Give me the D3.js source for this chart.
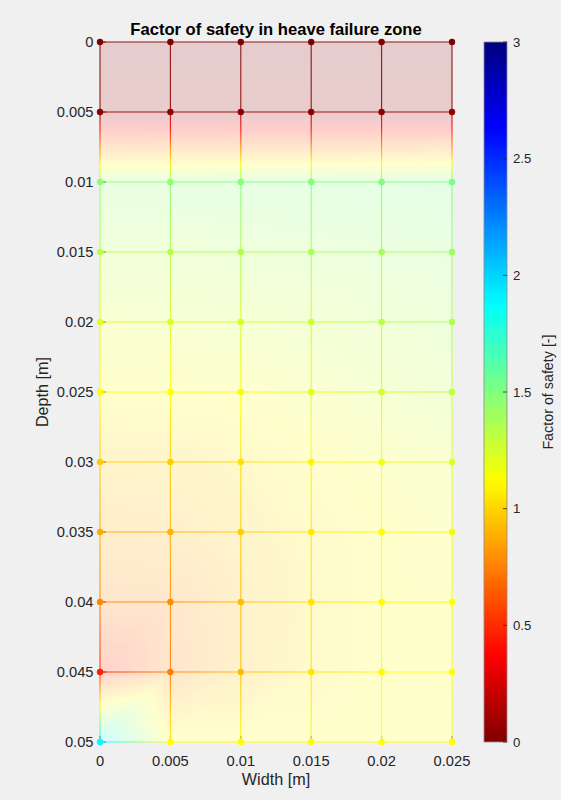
<!DOCTYPE html>
<html>
<head>
<meta charset="utf-8">
<script src="https://cdn.jsdelivr.net/npm/d3@7"></script>
<style>
  html, body { margin: 0; padding: 0; background: #f0f0f0; }
  svg { display: block; font-family: "Liberation Sans", Arial, Helvetica, sans-serif; }
</style>
</head>
<body>
<div id="chart"></div>
<script>
// grid of the heave zone
const widths = [0, 0.005, 0.01, 0.015, 0.02, 0.025];
const depths = [0, 0.005, 0.01, 0.015, 0.02, 0.025, 0.03, 0.035, 0.04, 0.045, 0.05];

// factor of safety at each node, one row per depth
const fos = [
  [0.00, 0.00, 0.00, 0.00, 0.00, 0.00],
  [0.05, 0.05, 0.05, 0.05, 0.05, 0.05],
  [1.45, 1.46, 1.48, 1.49, 1.50, 1.52],
  [1.33, 1.34, 1.36, 1.38, 1.40, 1.42],
  [1.22, 1.23, 1.25, 1.28, 1.33, 1.37],
  [1.12, 1.13, 1.15, 1.20, 1.25, 1.30],
  [0.97, 0.98, 1.03, 1.10, 1.16, 1.21],
  [0.88, 0.90, 0.98, 1.06, 1.12, 1.16],
  [0.77, 0.78, 0.93, 1.04, 1.12, 1.13],
  [0.47, 0.75, 0.93, 1.05, 1.12, 1.13],
  [1.88, 1.12, 1.12, 1.12, 1.12, 1.12]
];

const cbTicks = [0, 0.5, 1, 1.5, 2, 2.5, 3];
const faceAlpha = 0.2;

const W = 561, H = 800;
const svg = d3.select("#chart").append("svg").attr("width", W).attr("height", H);

const x = d3.scaleLinear().domain([0, 0.025]).range([100, 452]);
const y = d3.scaleLinear().domain([0, 0.05]).range([42, 742]);
const cbY = d3.scaleLinear().domain([0, 3]).range([742, 42]);

// flipped jet colormap, 0 = dark red, 3 = dark blue
const clamp = (v) => Math.max(0, Math.min(1, v));
function jetRgb(v) {
  const t = clamp(1 - v / 3);
  return [
    clamp(Math.min(4 * t - 1.5, -4 * t + 4.5)),
    clamp(Math.min(4 * t - 0.5, -4 * t + 3.5)),
    clamp(Math.min(4 * t + 0.5, -4 * t + 2.5))
  ];
}
const jet = (v) => {
  const c = jetRgb(v);
  return d3.rgb(c[0] * 255, c[1] * 255, c[2] * 255).formatHex();
};

// axes background
svg.append("rect")
  .attr("x", x(0)).attr("y", y(0))
  .attr("width", x(0.025) - x(0)).attr("height", y(0.05) - y(0))
  .attr("fill", "#fff");

// interpolated faces, each cell split into two triangles
const pw = Math.round(x(0.025) - x(0)), ph = Math.round(y(0.05) - y(0));
const canvas = document.createElement("canvas");
canvas.width = pw; canvas.height = ph;
const ctx = canvas.getContext("2d");
const img = ctx.createImageData(pw, ph);
for (let py = 0; py < ph; py++) {
  const yd = y.invert(y(0) + py + 0.5);
  let j = Math.min(depths.length - 2, Math.max(0, d3.bisectRight(depths, yd) - 1));
  const w = (yd - depths[j]) / (depths[j + 1] - depths[j]);
  for (let px = 0; px < pw; px++) {
    const xd = x.invert(x(0) + px + 0.5);
    let i = Math.min(widths.length - 2, Math.max(0, d3.bisectRight(widths, xd) - 1));
    const u = (xd - widths[i]) / (widths[i + 1] - widths[i]);
    const tl = fos[j][i], tr = fos[j][i + 1], bl = fos[j + 1][i], br = fos[j + 1][i + 1];
    let v;
    if (u + w <= 1) v = tl + u * (tr - tl) + w * (bl - tl);
    else v = br + (1 - u) * (bl - br) + (1 - w) * (tr - br);
    const c = jetRgb(v);
    const k = (py * pw + px) * 4;
    img.data[k] = 255 * (1 - faceAlpha + faceAlpha * c[0]);
    img.data[k + 1] = 255 * (1 - faceAlpha + faceAlpha * c[1]);
    img.data[k + 2] = 255 * (1 - faceAlpha + faceAlpha * c[2]);
    img.data[k + 3] = 255;
  }
}
ctx.putImageData(img, 0, 0);
svg.append("image")
  .attr("x", x(0)).attr("y", y(0))
  .attr("width", pw).attr("height", ph)
  .attr("preserveAspectRatio", "none")
  .attr("href", canvas.toDataURL());

// ticks (inside)
const tickG = svg.append("g").attr("stroke", "#262626").attr("stroke-width", 0.8);
depths.forEach((d) => {
  tickG.append("line").attr("x1", x(0)).attr("x2", x(0) + 6).attr("y1", y(d)).attr("y2", y(d));
});
widths.forEach((d) => {
  tickG.append("line").attr("x1", x(d)).attr("x2", x(d)).attr("y1", y(0.05)).attr("y2", y(0.05) - 6);
});

// mesh edges with interpolated colour
const defs = svg.append("defs");
const edges = [];
depths.forEach((d, j) => {
  for (let i = 0; i < widths.length - 1; i++)
    edges.push({ x1: widths[i], y1: d, x2: widths[i + 1], y2: d, v1: fos[j][i], v2: fos[j][i + 1] });
});
widths.forEach((wv, i) => {
  for (let j = 0; j < depths.length - 1; j++)
    edges.push({ x1: wv, y1: depths[j], x2: wv, y2: depths[j + 1], v1: fos[j][i], v2: fos[j + 1][i] });
});
edges.forEach((e, n) => {
  const g = defs.append("linearGradient")
    .attr("id", "edge" + n)
    .attr("gradientUnits", "userSpaceOnUse")
    .attr("x1", x(e.x1)).attr("y1", y(e.y1))
    .attr("x2", x(e.x2)).attr("y2", y(e.y2));
  d3.range(0, 1.0001, 0.05).forEach((f) => {
    g.append("stop").attr("offset", f).attr("stop-color", jet(e.v1 + f * (e.v2 - e.v1)));
  });
});
svg.append("g")
  .selectAll("line")
  .data(edges)
  .join("line")
  .attr("x1", (e) => x(e.x1)).attr("y1", (e) => y(e.y1))
  .attr("x2", (e) => x(e.x2)).attr("y2", (e) => y(e.y2))
  .attr("stroke", (e, n) => "url(#edge" + n + ")")
  .attr("stroke-width", 1.1)
  .attr("stroke-opacity", 0.9);

// node markers
const nodes = [];
depths.forEach((d, j) => widths.forEach((wv, i) => nodes.push({ x: wv, y: d, v: fos[j][i] })));
svg.append("g")
  .selectAll("circle")
  .data(nodes)
  .join("circle")
  .attr("cx", (d) => x(d.x)).attr("cy", (d) => y(d.y))
  .attr("r", 3.2)
  .attr("fill", (d) => jet(d.v));

// tick labels
const lab = svg.append("g").attr("font-size", 14.7).attr("fill", "#262626");
lab.selectAll(".yl")
  .data(depths)
  .join("text")
  .attr("x", 93.5).attr("y", (d) => y(d) + 5.3)
  .attr("text-anchor", "end")
  .text((d) => d3.format("~g")(d));
lab.selectAll(".xl")
  .data(widths)
  .join("text")
  .attr("x", (d) => x(d)).attr("y", 765.5)
  .attr("text-anchor", "middle")
  .text((d) => d3.format("~g")(d));

svg.append("text")
  .attr("x", x(0.0125)).attr("y", 784.5)
  .attr("text-anchor", "middle")
  .attr("font-size", 16.2).attr("fill", "#262626")
  .text("Width [m]");

svg.append("text")
  .attr("transform", `translate(47.5,${y(0.025)}) rotate(-90)`)
  .attr("text-anchor", "middle")
  .attr("font-size", 16.2).attr("fill", "#262626")
  .text("Depth [m]");

svg.append("text")
  .attr("x", x(0.0125)).attr("y", 35)
  .attr("text-anchor", "middle")
  .attr("font-size", 16.6).attr("font-weight", "bold").attr("fill", "#000")
  .text("Factor of safety in heave failure zone");

// colorbar
const cbGrad = defs.append("linearGradient")
  .attr("id", "cbGrad")
  .attr("x1", 0).attr("y1", 1).attr("x2", 0).attr("y2", 0);
d3.range(0, 1.0001, 0.02).forEach((f) => {
  cbGrad.append("stop").attr("offset", f).attr("stop-color", jet(f * 3));
});
const cbX = 484, cbW = 23;
svg.append("rect")
  .attr("x", cbX).attr("y", cbY(3))
  .attr("width", cbW).attr("height", cbY(0) - cbY(3))
  .attr("fill", "url(#cbGrad)")
  .attr("stroke", "#8c8c8c").attr("stroke-width", 0.8);
svg.append("g")
  .selectAll("line")
  .data(cbTicks)
  .join("line")
  .attr("x1", cbX + cbW - 4).attr("x2", cbX + cbW)
  .attr("y1", (d) => cbY(d)).attr("y2", (d) => cbY(d))
  .attr("stroke", "#262626").attr("stroke-width", 0.8);
svg.append("g")
  .attr("font-size", 13.2).attr("fill", "#262626")
  .selectAll("text")
  .data(cbTicks)
  .join("text")
  .attr("x", 513).attr("y", (d) => cbY(d) + 4.8)
  .text((d) => d3.format("~g")(d));
svg.append("text")
  .attr("transform", `translate(553,${cbY(1.5)}) rotate(-90)`)
  .attr("text-anchor", "middle")
  .attr("font-size", 14.3).attr("fill", "#262626")
  .text("Factor of safety [-]");
</script>
</body>
</html>
